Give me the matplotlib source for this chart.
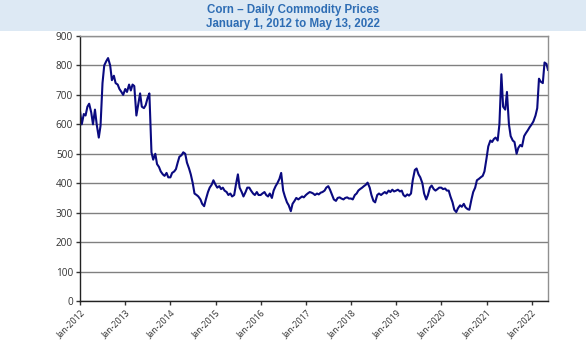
import numpy as np
import pandas as pd
import matplotlib
matplotlib.use('Agg')
import matplotlib.pyplot as plt
from matplotlib.patches import Rectangle

# цены (центы за бушель), значения на 1-е и 15-е число каждого месяца
prices_2012 = [645, 600, 635, 630, 660, 670, 640, 600, 650, 600, 555, 595,
               740, 800, 815, 825, 800, 750, 765, 740, 735, 720, 710, 700]
prices_2013 = [720, 710, 735, 715, 735, 730, 630, 665, 705, 660, 655, 665,
               690, 705, 505, 480, 500, 465, 455, 440, 430, 425, 435, 420]
prices_2014 = [420, 435, 440, 448, 470, 490, 495, 505, 500, 470, 450, 430,
               400, 365, 360, 355, 345, 330, 322, 345, 370, 385, 395, 410]
prices_2015 = [395, 385, 390, 380, 385, 375, 370, 360, 365, 355, 360, 395,
               430, 385, 370, 355, 370, 385, 385, 375, 365, 360, 370, 360]
prices_2016 = [360, 365, 370, 360, 355, 365, 350, 375, 390, 400, 415, 435,
               375, 355, 335, 325, 305, 330, 340, 350, 345, 350, 355, 352]
prices_2017 = [360, 365, 370, 368, 365, 360, 365, 362, 368, 370, 375, 385,
               390, 378, 360, 345, 340, 350, 352, 348, 345, 350, 352, 348]
prices_2018 = [348, 345, 360, 365, 375, 380, 385, 390, 395, 402, 385, 360,
               340, 335, 360, 365, 360, 365, 370, 365, 375, 370, 378, 372]
prices_2019 = [375, 378, 372, 375, 360, 355, 362, 358, 365, 410, 445, 450,
               430, 420, 400, 365, 345, 360, 385, 392, 380, 375, 380, 385]
prices_2020 = [385, 380, 382, 375, 375, 355, 335, 310, 302, 315, 325, 320,
               330, 318, 312, 310, 345, 370, 385, 410, 415, 420, 425, 440]
prices_2021 = [485, 525, 545, 540, 550, 555, 545, 600, 770, 660, 650, 710,
               600, 560, 545, 540, 500, 520, 530, 525, 560, 570, 580, 590]
prices_2022 = [600, 610, 630, 655, 755, 745, 740, 810, 805, 785]  # последнее - 13 мая

x_ticks = ['Jan-%d' % y for y in range(2012, 2023)]

prices = (prices_2012 + prices_2013 + prices_2014 + prices_2015 + prices_2016 +
          prices_2017 + prices_2018 + prices_2019 + prices_2020 + prices_2021 + prices_2022)
dates = list(pd.date_range('2012-01-01', '2022-05-01', freq='SMS')) + [pd.Timestamp('2022-05-13')]

fig = plt.figure(figsize=(5.86, 3.42), dpi=100)

# полоса заголовка
fig.patches.append(Rectangle((0, 1 - 31 / 342), 1, 31 / 342, transform=fig.transFigure,
                             facecolor='#dde9f4', edgecolor='none', zorder=0))
fig.text(0.5, 1 - 9.5 / 342, 'Corn \u2013 Daily Commodity Prices', ha='center', va='center',
         fontsize=8.3, fontweight='bold', color='#2e6db4', family='Liberation Sans')
fig.text(0.5, 1 - 24.5 / 342, 'January 1, 2012 to May 13, 2022', ha='center', va='center',
         fontsize=8.3, fontweight='bold', color='#2e6db4', family='Liberation Sans')

ax = fig.add_axes([80 / 586, 41 / 342, 468 / 586, 265 / 342])
ax.plot(dates, prices, color='#0a0a80', linewidth=1.5)

ax.set_xlim(pd.Timestamp('2012-01-01'), pd.Timestamp('2022-05-13'))
ax.set_ylim(0, 900)
ax.set_yticks(np.arange(0, 901, 100))
ax.yaxis.grid(True, color='#808080', linewidth=1)
ax.set_axisbelow(True)

tick_dates = [pd.Timestamp('%d-01-01' % y) for y in range(2012, 2023)]
ax.set_xticks(tick_dates)
ax.set_xticklabels(x_ticks, rotation=45, ha='right', rotation_mode='anchor')

for lab in ax.get_yticklabels():
    lab.set_fontsize(7.2)
    lab.set_color('#333333')
    lab.set_family('Open Sans')
for lab in ax.get_xticklabels():
    lab.set_fontsize(6.3)
    lab.set_color('#333333')
    lab.set_family('Open Sans')

ax.tick_params(axis='both', direction='out', length=3, width=1, color='#333333', pad=2)
ax.tick_params(axis='x', pad=2)

ax.spines['left'].set_color('#222222')
ax.spines['bottom'].set_color('#222222')
ax.spines['top'].set_color('#909090')
ax.spines['right'].set_color('#909090')
for s in ax.spines.values():
    s.set_linewidth(1)

fig.savefig('out.png', dpi=100)
